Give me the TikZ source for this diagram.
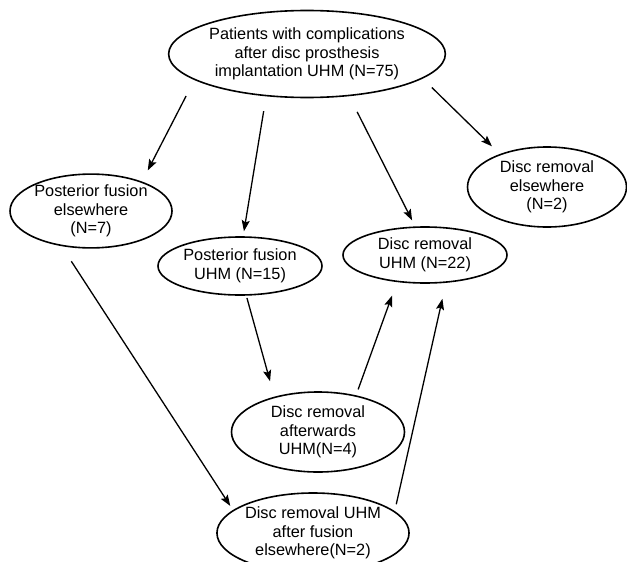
\documentclass[tikz,border=0pt]{standalone}
\usepackage{fontspec}
\setmainfont{Liberation Sans}
\usetikzlibrary{shapes.geometric,arrows.meta}
\begin{document}
\begin{tikzpicture}[x=1pt, y=-1pt,
        case/.style={ellipse, draw, line width=1.6pt, inner sep=0pt, align=center,
            font=\fontsize{16.3}{18.5}\selectfont},
        flow/.style={line width=1.3pt, -{Stealth[length=11pt, width=8pt, inset=2pt]}}]
        \useasboundingbox (0,0) rectangle (627,562);
        \node[case, minimum width=271pt, minimum height=87pt] (patients) at (307,54) {Patients with complications\\after disc prosthesis\\implantation UHM (N=75)};
        \node[case, minimum width=162pt, minimum height=72pt] (fusionelse) at (91,211) {Posterior fusion\\elsewhere\\(N=7)};
        \node[case, minimum width=159pt, minimum height=80pt] (removalelse) at (547,187) {Disc removal\\elsewhere\\(N=2)};
        \node[case, minimum width=164pt, minimum height=58pt] (fusionuhm) at (240,266) {Posterior fusion\\UHM (N=15)};
        \node[case, minimum width=164pt, minimum height=56pt] (removaluhm) at (425,255) {Disc removal\\UHM (N=22)};
        \node[case, minimum width=173pt, minimum height=80pt] (removalafter) at (318,432) {Disc removal\\afterwards\\UHM(N=4)};
        \node[case, minimum width=187pt, minimum height=80pt] (removalfusion) at (313,533) {Disc removal UHM\\after fusion\\elsewhere(N=2)};
        % from the first ellipse
        \draw[flow, shorten <=18pt, shorten >=12.5pt] (patients.193.5) -- (fusionelse.30.2);
        \draw[flow, shorten <=15pt, shorten >=5pt] (patients.226.3) -- (fusionuhm.84.3);
        \draw[flow, shorten <=17.5pt, shorten >=6.8pt] (patients.315.6) -- (removaluhm.109.7);
        \draw[flow, shorten <=12.7pt, shorten >=11pt] (patients.348.7) -- (removalelse.145.7);
        % further steps
        \draw[flow, shorten <=18pt, shorten >=4.9pt] (fusionelse.230.6) -- (removalfusion.164.4);
        \draw[flow, shorten <=2.3pt, shorten >=16pt] (fusionuhm.282.5) -- (removalafter.141.8);
        \draw[flow, shorten <=6.2pt, shorten >=14.4pt] (removalafter.44.5) -- (removaluhm.224.6);
        \draw[flow, shorten <=7pt, shorten >=16.3pt] (removalfusion.15) -- (removaluhm.307.4);
    \end{tikzpicture}
\end{document}
